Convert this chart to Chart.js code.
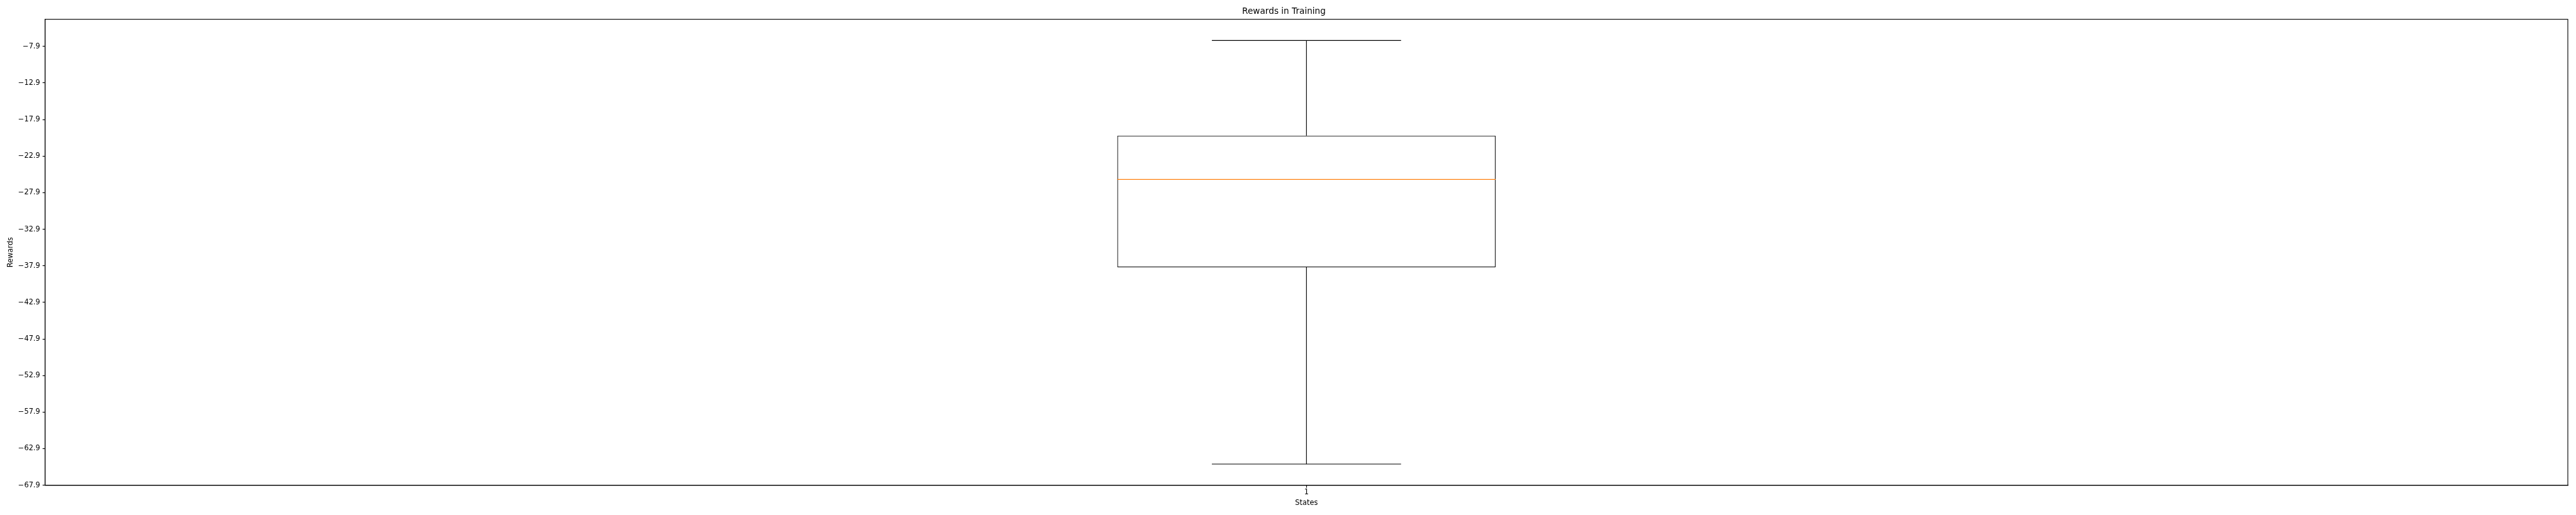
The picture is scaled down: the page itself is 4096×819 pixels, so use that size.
<!DOCTYPE html>
<html>
<head>
<meta charset="utf-8">
<script src="https://cdn.jsdelivr.net/npm/chart.js@4/dist/chart.umd.min.js"></script>
<style>
    html, body { margin: 0; padding: 0; background: #fff; }
    #chart-wrap { width: 4096px; height: 819px; }
</style>
</head>
<body>
<div id="chart-wrap"><canvas id="chart-rewards"></canvas></div>
<script>
// box plot values
const states = ['1'];
const whiskerLow = [-65.0];
const q1 = [-38.1];
const median = [-26.1];
const q3 = [-20.1];
const whiskerHigh = [-7.1];
const yTicks = [-67.9, -62.9, -57.9, -52.9, -47.9, -42.9, -37.9, -32.9, -27.9, -22.9, -17.9, -12.9, -7.9];
const yMin = -67.9;
const yMax = -4.2;

const S = 0.819;
const lw = 1.39 * S;
const tickFont = { family: 'DejaVu Sans', size: 13.9 * S };

function fmtTick(v) {
    var s = Math.abs(v).toFixed(1);
    return v < 0 ? '\u2212' + s : s;
}

// whiskers, caps, median and the frame, placed with the chart's scales
const boxParts = {
    id: 'boxParts',
    afterDatasetsDraw: function (chart) {
        const ctx = chart.ctx;
        const y = chart.scales.y;
        const bars = chart.getDatasetMeta(0).data;
        ctx.save();
        ctx.lineWidth = lw;
        bars.forEach(function (bar, i) {
            var cx = bar.x;
            var half = bar.width / 2;
            ctx.strokeStyle = '#000';
            ctx.beginPath();
            ctx.moveTo(cx, y.getPixelForValue(q3[i]));
            ctx.lineTo(cx, y.getPixelForValue(whiskerHigh[i]));
            ctx.moveTo(cx, y.getPixelForValue(q1[i]));
            ctx.lineTo(cx, y.getPixelForValue(whiskerLow[i]));
            ctx.moveTo(cx - half / 2, y.getPixelForValue(whiskerHigh[i]));
            ctx.lineTo(cx + half / 2, y.getPixelForValue(whiskerHigh[i]));
            ctx.moveTo(cx - half / 2, y.getPixelForValue(whiskerLow[i]));
            ctx.lineTo(cx + half / 2, y.getPixelForValue(whiskerLow[i]));
            ctx.stroke();
            ctx.strokeStyle = '#ff7f0e';
            ctx.beginPath();
            ctx.moveTo(cx - half, y.getPixelForValue(median[i]));
            ctx.lineTo(cx + half, y.getPixelForValue(median[i]));
            ctx.stroke();
        });
        const a = chart.chartArea;
        ctx.strokeStyle = '#000';
        ctx.strokeRect(a.left, a.top, a.right - a.left, a.bottom - a.top);
        ctx.restore();
    }
};

const boxData = states.map(function (s, i) { return [q1[i], q3[i]]; });

const myChart = new Chart(document.getElementById('chart-rewards'), {
    type: 'bar',
    data: {
        labels: states,
        datasets: [{
            data: boxData,
            backgroundColor: 'rgba(0,0,0,0)',
            borderColor: '#000',
            borderWidth: lw,
            borderSkipped: false,
            barPercentage: 0.15,
            categoryPercentage: 1
        }]
    },
    options: {
        responsive: true,
        maintainAspectRatio: false,
        animation: false,
        layout: { padding: { left: 0, right: 13, top: 0, bottom: 0 } },
        plugins: {
            legend: { display: false },
            tooltip: { enabled: false },
            title: {
                display: true,
                text: 'Rewards in Training',
                color: '#000',
                font: { family: 'DejaVu Sans', size: 16.67 * S, weight: 'normal' },
                padding: { top: 10.6, bottom: 3.7 }
            }
        },
        scales: {
            x: {
                grid: { offset: false, drawOnChartArea: false, drawTicks: true, tickLength: 4.86 * S, tickColor: '#000', tickWidth: lw },
                border: { display: true, color: '#000', width: lw },
                ticks: { color: '#000', font: tickFont, padding: 1 },
                title: { display: true, text: 'States', color: '#000', font: tickFont, padding: { top: 0, bottom: 12 } },
                afterFit: function (scale) { scale.height = 47.3; }
            },
            y: {
                min: yMin,
                max: yMax,
                grid: { drawOnChartArea: false, drawTicks: true, tickLength: 4.86 * S, tickColor: '#000', tickWidth: lw },
                border: { display: true, color: '#000', width: lw },
                ticks: { color: '#000', font: tickFont, padding: 4, callback: function (v) { return fmtTick(v); } },
                afterBuildTicks: function (scale) {
                    scale.ticks = yTicks.map(function (v) { return { value: v }; });
                },
                title: { display: true, text: 'Rewards', color: '#000', font: tickFont, padding: { top: 10.2, bottom: 0 } },
                afterFit: function (scale) { scale.width = 71.7; }
            }
        }
    },
    plugins: [boxParts]
});
</script>
</body>
</html>
